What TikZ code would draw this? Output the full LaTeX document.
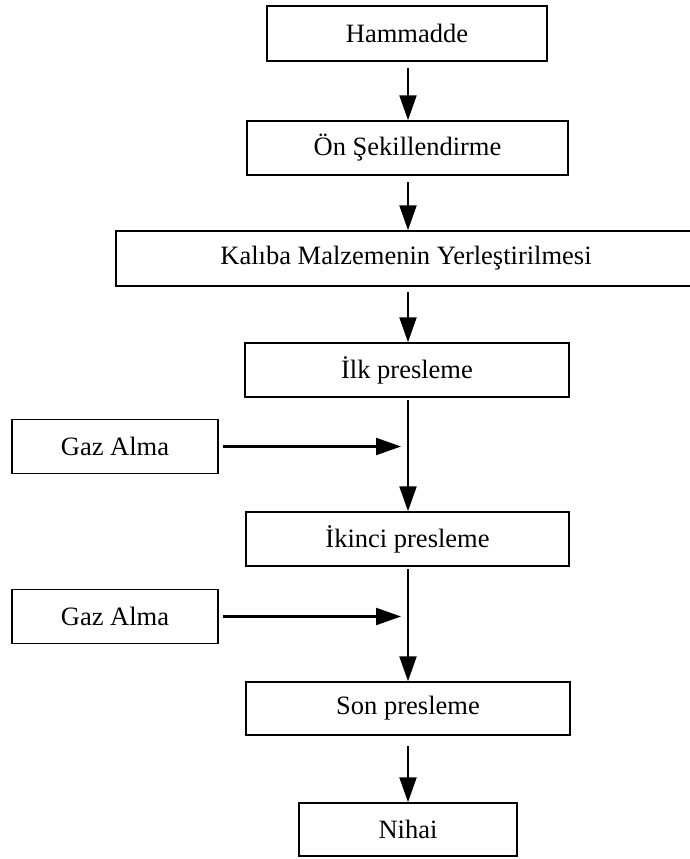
\documentclass[tikz,border=0pt]{standalone}
\usepackage{fontspec}
\setmainfont{Liberation Serif}
\usetikzlibrary{arrows.meta}
\begin{document}
\begin{tikzpicture}[x=1pt,y=-1pt,
  box/.style={draw,line width=1.5pt,inner sep=0pt,font=\fontsize{26.5}{30}\selectfont},
  flow/.style={line width=2.3pt,-{Triangle[length=25pt,width=17pt]}}]
\useasboundingbox (0,0) rectangle (690,859);
\clip (0,0) rectangle (690,859);
\node[box,minimum width=280pt,minimum height=55pt] (ham) at (407,33.5) {Hammadde};
\node[box,minimum width=321pt,minimum height=54pt] (on) at (407.5,148) {Ön Şekillendirme};
\node[box,minimum width=580pt,minimum height=55pt] (kal) at (406,258.5) {Kalıba Malzemenin Yerleştirilmesi};
\node[box,minimum width=324pt,minimum height=54pt] (ilk) at (407,370) {İlk presleme};
\node[box,minimum width=206pt,minimum height=54pt] (gaz1) at (115,446.5) {Gaz Alma};
\node[box,minimum width=323pt,minimum height=54pt] (iki) at (407.5,539) {İkinci presleme};
\node[box,minimum width=206pt,minimum height=54pt] (gaz2) at (115,616.5) {Gaz Alma};
\node[box,minimum width=324pt,minimum height=53pt] (son) at (408,708.5) {Son presleme};
\node[box,minimum width=218pt,minimum height=53pt] (nih) at (408,829.5) {Nihai};
\coordinate (j1) at (408,446.5);
\coordinate (j2) at (408,616.5);
\draw[flow,shorten <=6pt] (ham.south -| 408,0) -- (on.north -| 408,0);
\draw[flow,shorten <=6pt] (on.south -| 408,0) -- (kal.north -| 408,0);
\draw[flow,shorten <=5pt] (kal.south -| 408,0) -- (ilk.north -| 408,0);
\draw[flow,shorten <=2pt] (ilk.south -| 408,0) -- (iki.north -| 408,0);
\draw[flow,shorten <=2pt] (iki.south -| 408,0) -- (son.north -| 408,0);
\draw[flow,shorten <=10pt] (son.south -| 408,0) -- (nih.north -| 408,0);
\draw[flow,shorten <=4pt,shorten >=7pt] (gaz1.east) -- (j1);
\draw[flow,shorten <=4pt,shorten >=7pt] (gaz2.east) -- (j2);
\end{tikzpicture}
\end{document}
